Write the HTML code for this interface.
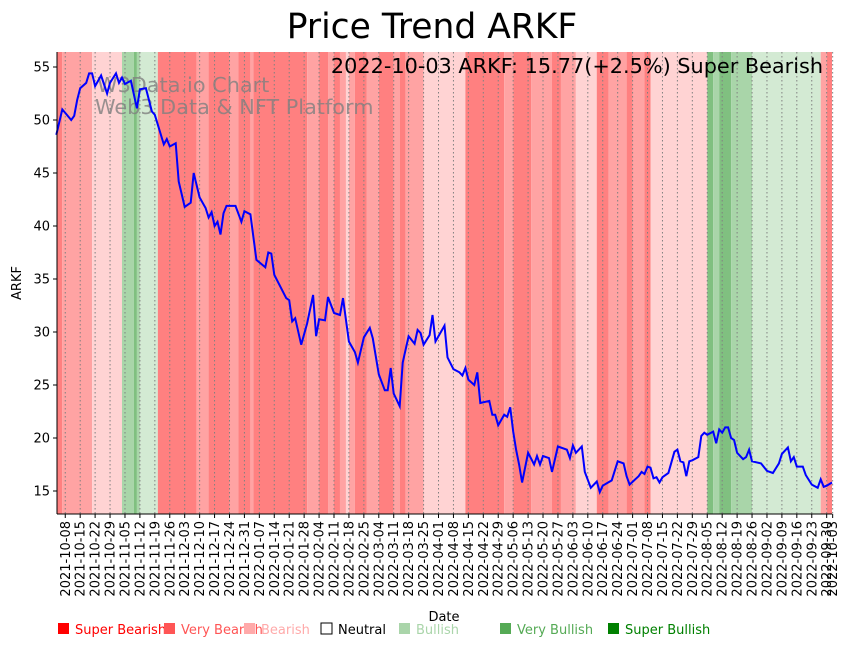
<!DOCTYPE html>
<html><head><meta charset="utf-8"><style>
body{margin:0;background:#fff;}
svg text{font-family:"DejaVu Sans","Liberation Sans",sans-serif;}
</style></head><body>
<svg id="chart" width="851" height="646" xmlns="http://www.w3.org/2000/svg">
<text x="432" y="38" font-size="34.5" text-anchor="middle">Price Trend ARKF</text>
<g id="bands"></g>
<g id="grid"></g>
<text x="97" y="92" font-size="20.8" fill="#808080" fill-opacity="0.8">W3Data.io Chart</text>
<text x="95" y="114" font-size="20.8" fill="#808080" fill-opacity="0.8">Web3 Data &amp; NFT Platform</text>
<path id="line" fill="none" stroke="#0000ff" stroke-width="2"/>
<text x="823" y="73" font-size="20.8" text-anchor="end">2022-10-03 ARKF: 15.77(+2.5%) Super Bearish</text>
<g id="yaxis"></g>
<g id="xaxis"></g>
<line x1="57" y1="52" x2="57" y2="514" stroke="#000" stroke-width="1"/>
<line x1="57" y1="514" x2="832" y2="514" stroke="#000" stroke-width="1"/>
<text x="21" y="283" font-size="13" text-anchor="middle" transform="rotate(-90 21 283)">ARKF</text>
<text x="444" y="621" font-size="13" text-anchor="middle">Date</text>
<g id="legend"></g>
</svg>
<script>
const dayIdx=[0,2,5,6,7,8,10,11,12,13,15,17,18,20,21,22,23,25,27,28,30,32,33,36,37,38,40,41,43,45,46,48,50,51,52,53,54,55,56,57,60,62,63,65,67,70,71,72,73,77,78,79,80,82,84,86,87,88,90,91,93,95,96,98,100,101,103,105,106,108,110,111,112,113,115,116,118,120,121,122,123,125,126,127,130,131,133,135,136,137,138,140,141,142,145,146,147,148,150,151,152,153,154,155,156,158,160,161,162,163,165,166,168,171,172,173,174,176,177,179,181,182,183,186,188,190,191,192,195,196,197,198,199,200,201,202,203,205,207,208,209,210,211,212,213,215,216,217,218,220,221,222,223,224,225,226,227,228,230,231,232,233,236,238,240,242,243,245,246,247,248,250,251,253,255,256,257,258,260];
const prices=[48.6,51.0,50.0,50.4,51.9,53.0,53.5,54.4,54.4,53.2,54.2,52.5,53.5,54.4,53.5,54.0,53.4,53.7,51.1,52.9,53.0,50.8,50.5,47.7,48.2,47.5,47.8,44.2,41.8,42.2,45.0,42.7,41.7,40.8,41.3,40.0,40.4,39.2,41.2,41.9,41.9,40.4,41.4,41.1,36.8,36.1,37.5,37.4,35.4,33.2,33.0,31.0,31.3,28.8,30.8,33.5,29.6,31.2,31.1,33.3,31.8,31.6,33.2,29.1,28.1,27.1,29.5,30.4,29.4,26.0,24.5,24.5,26.6,24.2,23.0,27.1,29.6,28.9,30.2,29.9,28.8,29.7,31.6,29.1,30.6,27.6,26.5,26.2,25.9,26.6,25.5,25.0,26.2,23.3,23.5,22.2,22.2,21.2,22.2,22.0,22.9,20.6,18.9,17.5,15.8,18.6,17.5,18.3,17.5,18.3,18.1,16.8,19.2,18.9,18.1,19.3,18.6,19.2,16.8,15.3,15.9,14.9,15.5,16.0,17.8,17.6,16.4,15.6,16.4,16.8,16.6,17.3,17.2,16.2,16.3,15.8,16.3,16.7,18.7,18.9,17.8,17.7,16.4,17.8,17.9,18.2,20.2,20.5,20.3,20.6,19.5,20.8,20.5,21.0,21.0,20.0,19.8,18.6,18.0,18.2,18.9,17.8,17.6,16.9,16.7,17.6,18.5,19.1,17.8,18.2,17.3,17.3,16.5,15.6,15.3,16.1,15.4,15.5,15.8];
const bandStarts=[0,2,12,22,26,27,28,34,47,51,58,61,65,66,84,88,91,93,95,97,98,100,104,108,113,115,117,123,137,150,153,159,166,169,174,181,185,191,193,197,199,218,220,222,226,233,256,258];
const bandCats=["SB","VB","B","VBu","SBu","VBu","Bu","SB","VB","SB","VB","SB","VB","SB","VB","SB","VB","SB","VB","B","VB","SB","VB","SB","VB","SB","VB","B","SB","VB","SB","VB","SB","VB","B","SB","VB","SB","VB","SB","B","SBu","VBu","SBu","VBu","Bu","VB","SB"];
const yTicks=[15,20,25,30,35,40,45,50,55];
const firstTickDate="2021-10-08", firstTickIdx=3, lastTickLabel="2022-10-03", lastTickIdx=260;
const legendLabels=["Super Bearish","Very Bearish","Bearish","Neutral","Bullish","Very Bullish","Super Bullish"];

const NS="http://www.w3.org/2000/svg";
const X0=56.3, DX=2.986, PL=57, PR=832, PT=52, PB=514;
const x=i=>X0+i*DX;
const y=v=>491-(v-15)*10.6;
const bandColor={SB:"#ff8080",VB:"#ffa3a3",B:"#ffd3d3",Bu:"#d3ead3",VBu:"#a9d5a9",SBu:"#80c080"};
function mk(t,a,p){const e=document.createElementNS(NS,t);for(const k in a)e.setAttribute(k,a[k]);p.appendChild(e);return e;}

const bands=document.getElementById('bands');
const nDays=261;
for(let k=0;k<bandStarts.length;k++){
  const s=bandStarts[k], e=k+1<bandStarts.length?bandStarts[k+1]:nDays;
  const x1=Math.max(PL,x(s)), x2=Math.min(PR,x(e));
  const r=mk('rect',{x:x1,y:PT,width:Math.max(0,x2-x1),height:PB-PT,fill:bandColor[bandCats[k]]},bands);
  
  
}

let d="";
for(let k=0;k<prices.length;k++){d+=(k?"L":"M")+Math.min(PR,x(dayIdx[k])).toFixed(1)+","+y(prices[k]).toFixed(1);}
document.getElementById('line').setAttribute('d',d);

const ya=document.getElementById('yaxis');
yTicks.forEach(v=>{
  const l=mk('line',{x1:PL-4,x2:PL,y1:y(v),y2:y(v),stroke:"#000"},ya);
  
  
  const t=mk('text',{x:PL-7,y:y(v)+4.5,"font-size":13,"text-anchor":"end"},ya);
  
  
  t.textContent=v;
});

const xa=document.getElementById('xaxis'), grid=document.getElementById('grid');
const ticks=[];
let dt=new Date(firstTickDate+"T00:00:00Z");
for(let w=0;w<52;w++){ticks.push([firstTickIdx+w*5,dt.toISOString().slice(0,10)]);dt=new Date(dt.getTime()+7*86400000);}
ticks.push([lastTickIdx,lastTickLabel]);
ticks.forEach(([i,lab])=>{
  const px=x(i);
  const g=mk('line',{x1:px,x2:px,y1:PT,y2:PB,stroke:"#808080","stroke-width":1,"stroke-dasharray":"1.5,2.5"},grid);
  
  
  const l=mk('line',{x1:px,x2:px,y1:PB,y2:PB+4,stroke:"#000"},xa);
  
  
  const t=mk('text',{x:0,y:0,"font-size":13,"text-anchor":"end",transform:`translate(${px+4.5},${PB+7}) rotate(-90)`},xa);
  
  
  t.textContent=lab;
});

const leg=document.getElementById('legend');
const legX=[57,163,243,320,398,499,607];
const legCol=["#ff0000","#ff5555","#ffaaaa","none","#aad5aa","#55aa55","#008000"];
const legTxt=["#ff0000","#ff5555","#ffaaaa","#000000","#aad5aa","#55aa55","#008000"];
legendLabels.forEach((lab,k)=>{
  const r=mk('rect',{x:legX[k]+1,y:623,width:11,height:11,fill:legCol[k],stroke:legCol[k]=="none"?"#000":"none"},leg);
  
  
  const t=mk('text',{x:legX[k]+18,y:634,"font-size":13,fill:legTxt[k]},leg);
  
  
  t.textContent=lab;
});
</script>
</body></html>
